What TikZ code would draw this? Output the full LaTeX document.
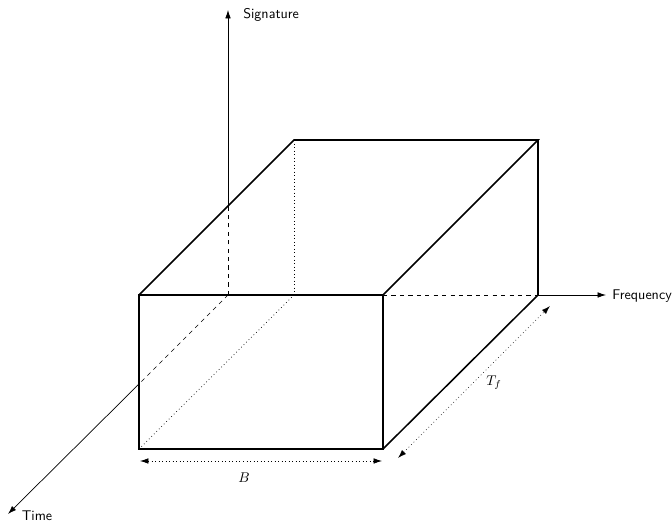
\documentclass[tikz,border=0pt]{standalone}
\usepackage{amsmath}
\usepackage{tikz}
\usetikzlibrary{arrows.meta}

\begin{document}
\begin{tikzpicture}[
    x=0.025cm, y=-0.025cm,
    edge/.style={line width=1.1pt},
    axis/.style={line width=0.5pt},
    hidden/.style={line width=0.5pt, dashed},
    axisarrow/.style={axis, -{Latex[length=6pt, width=4pt]}},
    dimarrow/.style={line width=0.5pt, dotted, {Latex[length=6pt, width=4pt]}-{Latex[length=6pt, width=4pt]}},
    axislabel/.style={font=\sffamily, anchor=west, inner sep=0pt}
]
\useasboundingbox (0,0) rectangle (672,523);

% origin and box corners
\coordinate (origin) at (228,295);
\coordinate (ftl) at (139,295);
\coordinate (ftr) at (383,295);
\coordinate (fbr) at (383,449);
\coordinate (fbl) at (139,449);
\coordinate (btl) at (294,140);
\coordinate (btr) at (538,140);
\coordinate (bbr) at (538,295);
\coordinate (bbl) at (294,295);

% where the axes leave the box
\coordinate (sigexit) at (228,206);
\coordinate (timeexit) at (139,384);
\coordinate (sigtip) at (228,10);
\coordinate (freqtip) at (606,295);
\coordinate (timetip) at (8,514);

% axes
\draw[hidden] (origin) -- (sigexit);
\draw[axisarrow] (sigexit) -- (sigtip);
\draw[hidden] (origin) -- (timeexit);
\draw[axisarrow] (timeexit) -- (timetip);
\draw[hidden] (ftr) -- (bbr);
\draw[axisarrow] (bbr) -- (freqtip);

\node[axislabel] (signature) at (243,15) {Signature};
\node[axislabel] (frequency) at (612,296) {Frequency};
\node[font=\sffamily] (time) at (37,516) {Time};

% hidden edges
\draw[dotted, line width=0.5pt] (btl) -- (bbl);
\draw[dotted, line width=0.5pt] (fbl) -- (bbl);

% box
\draw[edge] (ftl) -- (ftr) -- (fbr) -- (fbl) -- cycle;
\draw[edge] (ftl) -- (btl) -- (btr) -- (ftr);
\draw[edge] (btr) -- (bbr) -- (fbr);

% dimensions
\coordinate (bleft) at (140,461);
\coordinate (bright) at (382,461);
\coordinate (tfront) at (398,458);
\coordinate (tback) at (550,306);
\draw[dimarrow] (bleft) -- (bright);
\draw[dimarrow] (tfront) -- (tback);
\node (blabel) at (244,478) {$B$};
\node (tlabel) at (494,383) {$T_f$};
\end{tikzpicture}
\end{document}
